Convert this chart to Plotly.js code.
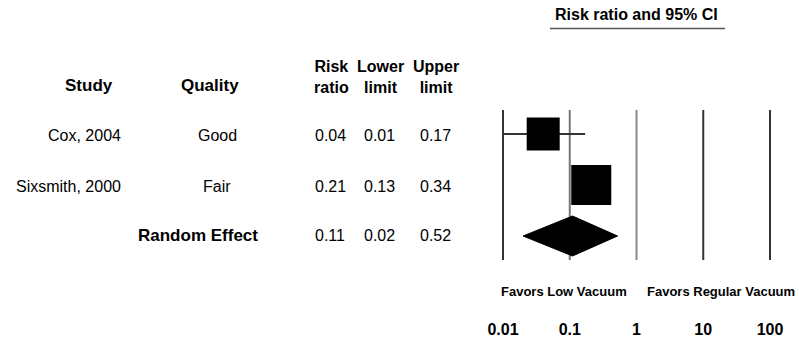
<!DOCTYPE html>
<html>
<head>
<meta charset="utf-8">
<script src="https://cdn.plot.ly/plotly-3.0.1.min.js"></script>
<style>html,body{margin:0;padding:0;background:#fff;}#chart{width:799px;height:346px;}</style>
</head>
<body>
<div id="chart"></div>
<script>
// ---- data ----
const studies = ["Cox, 2004", "Sixsmith, 2000"];
const quality = ["Good", "Fair"];
const riskRatio = [0.04, 0.21];
const lowerLimit = [0.01, 0.13];
const upperLimit = [0.17, 0.34];
const pooledLabel = "Random Effect";
const pooledRR = 0.11;
const pooledLower = 0.02;
const pooledUpper = 0.52;
const tickValues = [0.01, 0.1, 1, 10, 100];
const tickLabels = ["0.01", "0.1", "1", "10", "100"];
const leftLabel = "Favors Low Vacuum";
const rightLabel = "Favors Regular Vacuum";
const titleText = "Risk ratio and 95% CI";

// ---- layout helpers (pixel geometry) ----
const W = 799, H = 346;
const FONT = "Liberation Sans, Arial, sans-serif";
const rowY0 = 134, rowStep = 51;        // pixel of row 0, px per row
const plotBottom = 318;                 // pixel bottom of plot area
const yv = p => (p - rowY0) / rowStep;  // pixel -> y value
const px = x => x / W;                  // pixel -> paper x
const py = y => 1 - y / H;              // pixel -> paper y
const decadePx = 66.75, x001 = 503;     // pixel of 0.01
const domL = 0.6, domR = 1.0;
const logAt = p => -2 + (p - x001) / decadePx;

const traces = [];
// reference lines
const lineColors = ["#333", "#777", "#888", "#333", "#333"];
tickValues.forEach((t, i) => {
  traces.push({x: [t, t], y: [yv(110), yv(260)], mode: "lines", type: "scatter",
    line: {color: lineColors[i], width: 2}, hoverinfo: "skip", showlegend: false});
});
// CI lines
studies.forEach((s, i) => {
  traces.push({x: [lowerLimit[i], upperLimit[i]], y: [i, i], mode: "lines", type: "scatter",
    line: {color: "#333", width: 2}, showlegend: false, hoverinfo: "skip"});
});
// squares
const sizes = [33, 40];
traces.push({x: riskRatio, y: studies.map((s, i) => i), mode: "markers", type: "scatter",
  marker: {symbol: "square", size: sizes, color: "#000", opacity: 1, line: {width: 0}}, showlegend: false});
// diamond
const dRow = studies.length, dh = 20 / rowStep;
traces.push({x: [pooledLower, pooledRR, pooledUpper, pooledRR, pooledLower],
  y: [dRow, dRow - dh, dRow, dRow + dh, dRow], mode: "lines", type: "scatter", fill: "toself",
  fillcolor: "#000", line: {color: "#000", width: 1}, showlegend: false});

const ann = [];
function txt(text, xpix, ypix, opts) {
  ann.push(Object.assign({text: text, x: px(xpix), y: py(ypix), xref: "paper", yref: "paper",
    showarrow: false, xanchor: "center", yanchor: "middle",
    font: {family: FONT, size: 16, color: "#000"}}, opts || {}));
}
// headers
txt("<b>Study</b>", 89, 85, {font: {family: FONT, size: 17, color: "#000"}});
txt("<b>Quality</b>", 210, 85, {font: {family: FONT, size: 17, color: "#000"}});
txt("<b>Risk</b><br><b>ratio</b>", 331, 77, {font: {family: FONT, size: 16, color: "#000"}});
txt("<b>Lower</b><br><b>limit</b>", 380, 77, {font: {family: FONT, size: 16, color: "#000"}});
txt("<b>Upper</b><br><b>limit</b>", 436, 77, {font: {family: FONT, size: 16, color: "#000"}});
// rows
const rowTextY = [135, 186];
studies.forEach((s, i) => {
  txt(s, 123, rowTextY[i], {xanchor: "right"});
  txt(quality[i], 217, rowTextY[i]);
  txt(riskRatio[i].toFixed(2), 330, rowTextY[i]);
  txt(lowerLimit[i].toFixed(2), 379, rowTextY[i]);
  txt(upperLimit[i].toFixed(2), 436, rowTextY[i]);
});
txt("<b>" + pooledLabel + "</b>", 198, 235, {font: {family: FONT, size: 17, color: "#000"}});
txt(pooledRR.toFixed(2), 330, 235);
txt(pooledLower.toFixed(2), 379, 235);
txt(pooledUpper.toFixed(2), 436, 235);
// favors
txt("<b>" + leftLabel + "</b>", 564, 291, {font: {family: FONT, size: 13, color: "#000"}});
txt("<b>" + rightLabel + "</b>", 721, 291, {font: {family: FONT, size: 13, color: "#000"}});
// title
txt("<b>" + titleText + "</b>", 636, 15, {font: {family: FONT, size: 16, color: "#000"}});

const layout = {
  width: W, height: H,
  margin: {l: 0, r: 0, t: 0, b: 0},
  paper_bgcolor: "#fff", plot_bgcolor: "#fff",
  showlegend: false,
  xaxis: {type: "log", domain: [domL, domR],
    range: [logAt(domL * W), logAt(domR * W)], autorange: false,
    tickvals: tickValues, ticktext: tickLabels, showgrid: false, zeroline: false,
    showline: false, ticks: "", tickfont: {family: FONT, size: 16, color: "#000", weight: "bold"}},
  yaxis: {domain: [1 - plotBottom / H, 1], range: [yv(plotBottom), yv(0)], autorange: false,
    visible: false, showgrid: false, zeroline: false},
  annotations: ann,
  shapes: [{type: "line", xref: "paper", yref: "paper", x0: px(550), x1: px(725),
    y0: py(28.5), y1: py(28.5), line: {color: "#555", width: 1.5}}]
};
Plotly.newPlot("chart", traces, layout, {displayModeBar: false, staticPlot: true});
</script>
</body>
</html>
